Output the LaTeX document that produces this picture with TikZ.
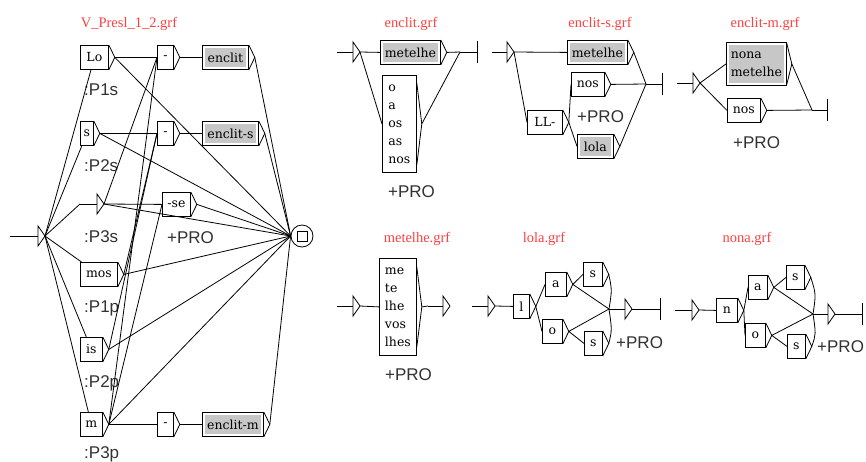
\documentclass[tikz,border=0pt]{standalone}
\usepackage{fontspec}
\newfontfamily\dvs{DejaVu Serif}
\newfontfamily\lsans{Liberation Sans}
\newfontfamily\lserif{Liberation Serif}
\usetikzlibrary{calc}
\definecolor{titred}{RGB}{255,64,64}
\definecolor{outgray}{RGB}{50,50,50}
\tikzset{
 conn/.style={line width=0.8pt, draw=black},
 ubox/.style={draw=black, line width=0.8pt, inner sep=0pt, font={\dvs\fontsize{12.5}{18}\selectfont}, align=left},
 gfill/.style={fill=black!22},
 outlab/.style={font={\lsans\fontsize{17}{20}\selectfont}, text=outgray, inner sep=0pt, anchor=base west},
 grtitle/.style={font={\lserif\fontsize{14.5}{16}\selectfont}, text=titred, inner sep=0pt, anchor=base},
}
\newcommand\mkbox[6]{%
  \node[ubox, minimum width=#4pt, minimum height=#5pt, anchor=north west] (#1) at (#2,#3) {#6};
  \draw[conn] (#1.north east) -- ($(#1.east)+(6,0)$) coordinate (#1-t) -- (#1.south east);
}
\newcommand\mkgbox[6]{%
  \fill[gfill] ({#2+3},{#3+3}) rectangle ({#2+#4-2.5},{#3+#5-2.5});
  \mkbox{#1}{#2}{#3}{#4}{#5}{#6}%
}
\newcommand\mklbox[7]{%
  \node[ubox, minimum width=#4pt, minimum height=#5pt, anchor=north west] (#1) at (#2,#3) {#6};
  \draw[conn] ($(#1.north east)+(0,#7)$) -- ($(#1.east)+(5,0)$) coordinate (#1-t) -- ($(#1.south east)+(0,-#7)$);
}
\newcommand\mkempty[4]{%
  \coordinate (#1) at (#2,#3);
  \draw[conn] (#1) -- (#4,#3);
  \draw[conn] (#4,{#3-10}) -- ({#4+7},#3) coordinate (#1-t) -- (#4,{#3+10}) -- cycle;
}
\newcommand\mkfinal[4]{%
  \coordinate (#1) at (#2,#3);
  \draw[conn] (#1) -- (#4,#3);
  \draw[conn] (#4,{#3-11}) -- (#4,{#3+11});
}
\begin{document}
\begin{tikzpicture}[x=1pt,y=-1pt]
\useasboundingbox (0,0) rectangle (866,461);
\fill[white] (0,0) rectangle (866,461);

% ---------------- main graph V_Presl_1_2.grf
\node[grtitle] (t0) at (129,27) {V\_Presl\_1\_2.grf};
\mkempty{I0}{10}{236}{38}
\mkbox{nLo}{80}{45}{28}{24}{Lo}
\mkbox{nS}{80}{121}{13}{24}{s}
\mkempty{nE}{80}{204}{97}
\mkbox{nMos}{80}{262}{37}{24}{mos}
\mkbox{nIs}{80}{337}{22}{24}{is}
\mkbox{nM}{80}{412}{22}{24}{m}
\mkbox{d1}{157}{45}{16}{24}{-}
\mkbox{d2}{157}{121}{16}{24}{-}
\mkbox{d3}{157}{412}{16}{24}{-}
\mkbox{nSe}{162}{192}{28}{24}{-se}
\mkgbox{enc}{202}{45}{46}{24}{enclit}
\mkgbox{encs}{202}{121}{56}{24}{enclit-s}
\mkgbox{encm}{202}{412}{61}{24}{enclit-m}
\node[draw, circle, line width=0.8pt, minimum size=22pt, inner sep=0pt] (F0) at (302,236) {};
\node[draw, line width=0.8pt, minimum size=10pt, inner sep=0pt] (F0sq) at (F0.center) {};

\node[outlab] (lP1s) at (84,95) {:P1s};
\node[outlab] (lP2s) at (84,171) {:P2s};
\node[outlab] (lP3s) at (84,242) {:P3s};
\node[outlab] (lP1p) at (84,312) {:P1p};
\node[outlab] (lP2p) at (84,387) {:P2p};
\node[outlab] (lP3p) at (84,458) {:P3p};
\node[outlab] (pro0) at (167,243) {+PRO};

\foreach \t in {nLo,nS,nE,nMos,nIs,nM} \draw[conn] (I0-t) -- (\t);
\draw[conn] (nLo-t) -- (d1.west);
\draw[conn] (nE-t) -- (d1.west);
\draw[conn] (nM-t) -- (d1.west);
\draw[conn] (nS-t) -- (d2.west);
\draw[conn] (nMos-t) -- (d2.west);
\draw[conn] (nIs-t) -- (d2.west);
\draw[conn] (nE-t) -- (nSe.west);
\draw[conn] (nM-t) -- (nSe.west);
\draw[conn] (nM-t) -- (d3.west);
\draw[conn] (d1-t) -- (enc.west);
\draw[conn] (d2-t) -- (encs.west);
\draw[conn] (d3-t) -- (encm.west);
\foreach \t in {nLo,nS,nE,nMos,nIs,nM,enc,encs,nSe,encm} \draw[conn] (\t-t) -- (F0.west);

% ---------------- enclit.grf
\node[grtitle] (t1) at (411,27) {enclit.grf};
\mkempty{I1}{337}{52}{353}
\mkgbox{g1m}{380}{40}{60}{24}{metelhe}
\mklbox{g1l}{382}{75}{34}{97}{o\\a\\os\\as\\nos}{8}
\mkfinal{F1}{460}{52}{477}
\draw[conn] (I1-t) -- (g1m.west);
\draw[conn] (I1-t) -- (g1l.west);
\draw[conn] (g1m-t) -- (F1);
\draw[conn] (g1l-t) -- (F1);
\node[outlab] (pro1) at (388,197) {+PRO};

% ---------------- enclit-s.grf
\node[grtitle] (t2) at (600,27) {enclit-s.grf};
\mkempty{I2}{492}{52}{507}
\mkgbox{g2m}{567}{40}{60}{24}{metelhe}
\mkbox{g2L}{527}{110}{35}{24}{LL-}
\mkbox{g2n}{571}{72}{33}{24}{nos}
\mkgbox{g2o}{577}{134}{36}{24}{lola}
\mkfinal{F2}{646}{84}{662}
\draw[conn] (I2-t) -- (g2m.west);
\draw[conn] (I2-t) -- (g2L.west);
\draw[conn] (g2L-t) -- (g2n.west);
\draw[conn] (g2L-t) -- (g2o.west);
\draw[conn] (g2m-t) -- (F2);
\draw[conn] (g2n-t) -- (F2);
\draw[conn] (g2o-t) -- (F2);
\node[outlab] (pro2) at (577,122) {+PRO};

% ---------------- enclit-m.grf
\node[grtitle] (t3) at (765,27) {enclit-m.grf};
\mkempty{I3}{677}{83}{693}
\fill[gfill] (729,45) rectangle (783.5,82.5);
\mklbox{g3nm}{726}{42}{60}{43}{nona\\metelhe}{1.5}
\mkbox{g3n}{727}{98}{33}{24}{nos}
\mkfinal{F3}{812}{110}{827}
\draw[conn] (I3-t) -- (g3nm.west);
\draw[conn] (I3-t) -- (g3n.west);
\draw[conn] (g3nm-t) -- (F3);
\draw[conn] (g3n-t) -- (F3);
\node[outlab] (pro3) at (733,148) {+PRO};

% ---------------- metelhe.grf
\node[grtitle] (t4) at (417,242) {metelhe.grf};
\mkempty{I4}{337}{306}{353}
\mklbox{g4}{379}{258}{37}{97}{me\\te\\lhe\\vos\\lhes}{9}
\mkempty{T4}{428}{306}{443}
\draw[conn] (I4-t) -- (g4.west);
\draw[conn] (g4-t) -- (T4);
\node[outlab] (pro4) at (385,380) {+PRO};

% ---------------- lola.grf
\node[grtitle] (t5) at (544,242) {lola.grf};
\mkempty{I5}{472}{306}{488}
\mkbox{g5l}{513}{294}{16}{24}{l}
\mkbox{g5a}{545}{272}{21}{24}{a}
\mkbox{g5o}{542}{319}{20}{24}{o}
\mkbox{g5s1}{583}{262}{19}{24}{s}
\mkbox{g5s2}{584}{331}{18}{24}{s}
\mkempty{T5}{609}{309}{625}
\mkfinal{F5}{632}{309}{660}
\draw[conn] (I5-t) -- (g5l.west);
\draw[conn] (g5l-t) -- (g5a.west);
\draw[conn] (g5l-t) -- (g5o.west);
\draw[conn] (g5a-t) -- (g5s1.west);
\draw[conn] (g5a-t) -- (T5);
\draw[conn] (g5o-t) -- (g5s2.west);
\draw[conn] (g5o-t) -- (T5);
\draw[conn] (g5s1-t) .. controls (612,290) .. (T5);
\draw[conn] (g5s2-t) .. controls (612,330) .. (T5);
\node[outlab] (pro5) at (616,348) {+PRO};

% ---------------- nona.grf
\node[grtitle] (t6) at (747,242) {nona.grf};
\mkempty{I6}{675}{310}{692}
\mkbox{g6n}{716}{298}{21}{24}{n}
\mkbox{g6a}{748}{275}{19}{24}{a}
\mkbox{g6o}{745}{323}{20}{24}{o}
\mkbox{g6s1}{786}{265}{18}{24}{s}
\mkbox{g6s2}{787}{334}{18}{24}{s}
\mkempty{T6}{813}{314}{828}
\mkfinal{F6}{835}{314}{862}
\draw[conn] (I6-t) -- (g6n.west);
\draw[conn] (g6n-t) -- (g6a.west);
\draw[conn] (g6n-t) -- (g6o.west);
\draw[conn] (g6a-t) -- (g6s1.west);
\draw[conn] (g6a-t) -- (T6);
\draw[conn] (g6o-t) -- (g6s2.west);
\draw[conn] (g6o-t) -- (T6);
\draw[conn] (g6s1-t) .. controls (816,294) .. (T6);
\draw[conn] (g6s2-t) .. controls (816,334) .. (T6);
\node[outlab] (pro6) at (817,352) {+PRO};
\end{tikzpicture}
\end{document}
